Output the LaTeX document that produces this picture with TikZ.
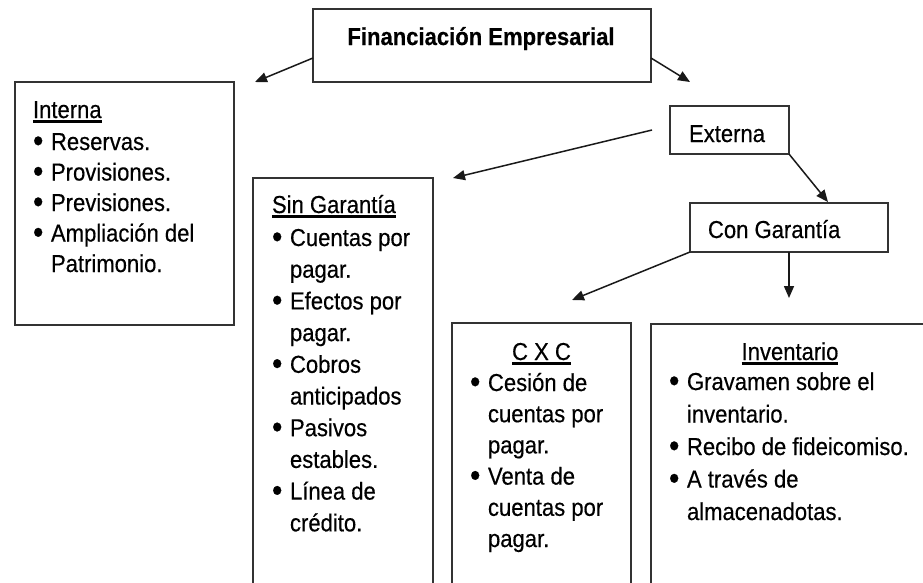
\documentclass[tikz,border=0pt]{standalone}
\usepackage{fontspec}
\setmainfont{Liberation Sans}[FakeStretch=0.9,FakeBold=0.4]
\usepackage{graphicx}
\usetikzlibrary{arrows.meta}
\newcommand\myul[1]{\setbox0\hbox{#1}\rlap{\rule[-4.5pt]{\wd0}{2.2pt}}\box0}
\newcommand\bl{\makebox[18pt][l]{\raisebox{-1.8pt}{\scalebox{1.35}{\textbullet}}}}
\newcommand\ct{\hspace*{18pt}}
\tikzset{
  frame/.style={draw=black!80, line width=1.6pt, inner sep=0pt, outer sep=0pt, anchor=north west, fill=none},
  txt/.style={inner sep=0pt, outer sep=0pt, font=\fontsize{24.5}{28}\selectfont},
  arr/.style={line width=1.5pt, black!90, -{Triangle[length=12pt,width=10pt]}},
}
\begin{document}
\begin{tikzpicture}[x=1pt,y=-1pt]
\useasboundingbox (0,0) rectangle (923,582);
\fill[white] (0,0) rectangle (923,582);
\clip (0,0) rectangle (923,582);

% frames
\node[frame, minimum width=338pt, minimum height=73pt] (top) at (313,9) {};
\node[frame, minimum width=219pt, minimum height=243pt] (int) at (15,82) {};
\node[frame, minimum width=119pt, minimum height=48pt] (ext) at (670,106) {};
\node[frame, minimum width=198pt, minimum height=49pt] (cg) at (690,203) {};
\node[frame, minimum width=180pt, minimum height=422pt] (sin) at (253,178) {};
\node[frame, minimum width=179pt, minimum height=277pt] (cxc) at (452,323) {};
\node[frame, minimum width=280pt, minimum height=276pt] (inv) at (651,324) {};

% texts
\node[txt, anchor=base, font=\fontsize{24.5}{28}\selectfont\bfseries] (toptxt) at (481,45) {Financiación Empresarial};
\node[txt, anchor=base west] (exttxt) at (689,142) {Externa};
\node[txt, anchor=base west] (cgtxt) at (708,238) {Con Garantía};

\node[txt, anchor=base west, font=\fontsize{24.5}{30.5}\selectfont] (intlist) at (33,118) {%
\begin{tabular}[t]{@{}l@{}}
\myul{Interna}\\[1.5pt]
\bl Reservas.\\
\bl Provisiones.\\
\bl Previsiones.\\
\bl Ampliación del\\
\ct Patrimonio.
\end{tabular}};

\node[txt, anchor=base west, font=\fontsize{24.5}{31.7}\selectfont] (sinlist) at (272,213) {%
\begin{tabular}[t]{@{}l@{}}
\myul{Sin Garantía}\\[1.3pt]
\bl Cuentas por\\
\ct pagar.\\
\bl Efectos por\\
\ct pagar.\\
\bl Cobros\\
\ct anticipados\\
\bl Pasivos\\
\ct estables.\\
\bl Línea de\\
\ct crédito.
\end{tabular}};

\node[txt, anchor=base] (cxchead) at (541.5,360) {\myul{C X C}};
\node[txt, anchor=base west, font=\fontsize{24.5}{31.2}\selectfont] (cxclist) at (470,391) {%
\begin{tabular}[t]{@{}l@{}}
\bl Cesión de\\
\ct cuentas por\\
\ct pagar.\\
\bl Venta de\\
\ct cuentas por\\
\ct pagar.
\end{tabular}};

\node[txt, anchor=base] (invhead) at (790,360) {\myul{Inventario}};
\node[txt, anchor=base west, font=\fontsize{24.5}{32.5}\selectfont] (invlist) at (669,390) {%
\begin{tabular}[t]{@{}l@{}}
\bl Gravamen sobre el\\
\ct inventario.\\
\bl Recibo de fideicomiso.\\
\bl A través de\\
\ct almacenadotas.
\end{tabular}};

% arrow tips
\coordinate (t1) at (255,82);
\coordinate (t2) at (690,82);
\coordinate (t3) at (453,178);
\coordinate (t4) at (828,202);
\coordinate (t5) at (572,300);
\coordinate (t6) at (789,298);

\draw[arr] ([yshift=-12.5pt]top.west) -- (t1);
\draw[arr] ([yshift=-12.5pt]top.east) -- (t2);
\draw[arr] ([xshift=-18pt]ext.west) -- (t3);
\draw[arr] (ext.south east) -- (t4);
\draw[arr] (cg.south west) -- (t5);
\draw[arr] (cg.south) -- (t6);
\end{tikzpicture}
\end{document}
